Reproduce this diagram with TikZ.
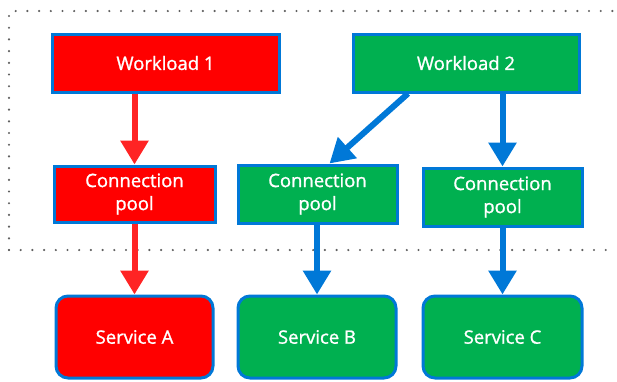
\documentclass[tikz,border=0pt]{standalone}
\usepackage{fontspec}
\setmainfont{Open Sans}
\newfontfamily\boxfont{Open Sans}[FakeBold=1.2]
\usetikzlibrary{arrows.meta}
\definecolor{boxblue}{HTML}{0078D7}
\definecolor{boxred}{HTML}{FF0000}
\definecolor{boxgreen}{HTML}{00B050}
\definecolor{arrred}{HTML}{FF2424}
\definecolor{dotgray}{HTML}{606060}
\begin{document}
\begin{tikzpicture}[x=1pt,y=-1pt,
  box/.style={draw=boxblue,line width=3pt,text=white,font=\boxfont\fontsize{18.5}{23}\selectfont,align=center,inner sep=0pt},
  redfill/.style={fill=boxred},
  greenfill/.style={fill=boxgreen},
  svc/.style={box,rounded corners=12pt},
  flow/.style={line width=6pt,-{Triangle[length=24pt,width=27pt]}},
  redflow/.style={flow,draw=arrred},
  blueflow/.style={flow,draw=boxblue},
  dotline/.style={draw=dotgray,line width=2.4pt,line cap=round,dash pattern=on 0pt off 11.7pt}]
\useasboundingbox (0,0) rectangle (617,381);
% dotted frame around workloads and pools
\draw[dotline] (9,250) -- (9,11) -- (617,11);
\draw[dotline] (9,250) -- (617,250);
% workloads
\node[box,redfill,minimum width=227pt,minimum height=58pt] (w1) at (165.5,63) {Workload 1};
\node[box,greenfill,minimum width=226pt,minimum height=58pt] (w2) at (466,63) {Workload 2};
% connection pools
\node[box,redfill,minimum width=161pt,minimum height=56pt] (p1) at (134.5,194) {Connection\\pool};
\node[box,greenfill,minimum width=159pt,minimum height=58pt] (p2) at (317.5,194) {Connection\\pool};
\node[box,greenfill,minimum width=159pt,minimum height=58pt] (p3) at (502.5,197) {Connection\\pool};
% services
\node[svc,redfill,minimum width=157pt,minimum height=82pt] (sa) at (134.5,337) {Service A};
\node[svc,greenfill,minimum width=158pt,minimum height=82pt] (sb) at (317,337) {Service B};
\node[svc,greenfill,minimum width=159pt,minimum height=82pt] (sc) at (502.5,337) {Service C};
% connections
\draw[redflow] (w1.south -| p1.north) -- (p1.north);
\draw[redflow] (p1.south) -- (sa.north);
\draw[blueflow] ([xshift=-58pt]w2.south) -- ([xshift=12pt]p2.north);
\draw[blueflow] (w2.south -| p3.north) -- (p3.north);
\draw[blueflow] (p2.south -| sb.north) -- (sb.north);
\draw[blueflow] (p3.south) -- (sc.north);
\end{tikzpicture}
\end{document}
